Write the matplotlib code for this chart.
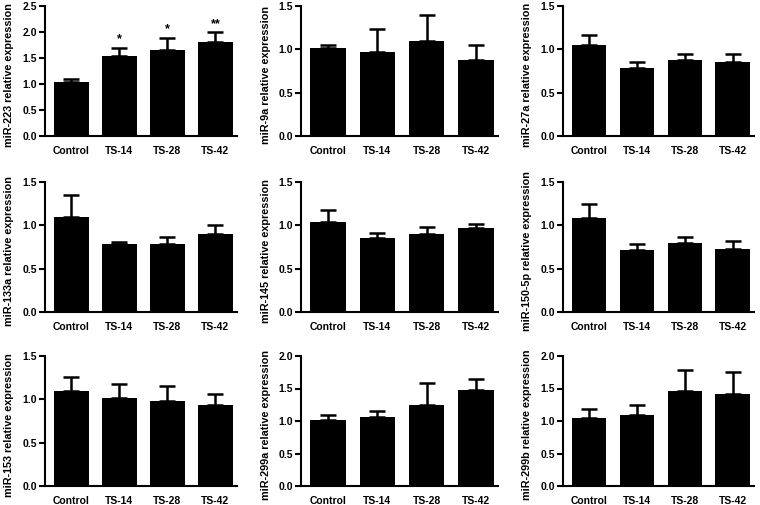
import matplotlib
matplotlib.use("Agg")
import matplotlib.pyplot as plt

plt.rcParams['font.family'] = ['Liberation Sans', 'DejaVu Sans']
plt.rcParams['font.weight'] = 'bold'

groups = ['Control', 'TS-14', 'TS-28', 'TS-42']

names = ['miR-223', 'miR-9a', 'miR-27a',
         'miR-133a', 'miR-145', 'miR-150-5p',
         'miR-153', 'miR-299a', 'miR-299b']

# mean values
mir223 = [1.03, 1.54, 1.65, 1.81]
mir9a = [1.01, 0.97, 1.10, 0.88]
mir27a = [1.05, 0.79, 0.88, 0.85]
mir133a = [1.10, 0.78, 0.78, 0.90]
mir145 = [1.04, 0.85, 0.90, 0.97]
mir150 = [1.08, 0.72, 0.80, 0.73]
mir153 = [1.10, 1.02, 0.98, 0.94]
mir299a = [1.02, 1.06, 1.25, 1.47]
mir299b = [1.05, 1.09, 1.46, 1.42]

# upper error (SEM)
err223 = [0.07, 0.16, 0.24, 0.19]
err9a = [0.04, 0.26, 0.30, 0.17]
err27a = [0.12, 0.06, 0.07, 0.10]
err133a = [0.25, 0.03, 0.08, 0.10]
err145 = [0.14, 0.06, 0.08, 0.05]
err150 = [0.17, 0.06, 0.06, 0.09]
err153 = [0.16, 0.16, 0.17, 0.12]
err299a = [0.08, 0.09, 0.34, 0.18]
err299b = [0.14, 0.15, 0.32, 0.33]

stars223 = ['', '*', '*', '**']

means = [mir223, mir9a, mir27a, mir133a, mir145, mir150, mir153, mir299a, mir299b]
errs = [err223, err9a, err27a, err133a, err145, err150, err153, err299a, err299b]
ymax = [2.5, 1.5, 1.5, 1.5, 1.5, 1.5, 1.5, 2.0, 2.0]

W, H = 760, 505
fig = plt.figure(figsize=(7.6, 5.05), dpi=100)

col_left = [45, 301, 563]
col_right = [237, 498, 754]
row_top = [6, 182, 356]
row_bot = [136, 312, 486]
lab_x = [14, 271, 532]

for i in range(9):
    r, c = divmod(i, 3)
    ax = fig.add_axes([col_left[c] / W, 1 - row_bot[r] / H,
                       (col_right[c] - col_left[c]) / W,
                       (row_bot[r] - row_top[r]) / H])
    x = range(len(groups))
    ax.bar(x, means[i], width=0.72, color='black', zorder=2)
    ax.errorbar(x, means[i], yerr=[[0] * 4, errs[i]], fmt='none',
                ecolor='black', elinewidth=1.8, capsize=5.5, capthick=1.8, zorder=1)
    ax.set_xlim(-0.55, 3.45)
    ax.set_ylim(0, ymax[i])
    step = 0.5
    ticks = [k * step for k in range(int(round(ymax[i] / step)) + 1)]
    ax.set_yticks(ticks)
    ax.set_yticklabels(['%.1f' % t for t in ticks], fontsize=7.5, fontweight='bold')
    ax.set_xticks(list(x))
    ax.set_xticklabels(groups, fontsize=7.5, fontweight='bold')
    ax.spines['top'].set_visible(False)
    ax.spines['right'].set_visible(False)
    ax.spines['left'].set_linewidth(1.5)
    ax.spines['bottom'].set_linewidth(1.5)
    ax.tick_params(axis='y', length=4, width=1.5, pad=2)
    ax.tick_params(axis='x', length=0, pad=7)
    ax.set_ylabel(names[i] + ' relative expression', fontsize=7.8, fontweight='bold')
    ax.yaxis.set_label_coords((lab_x[c] - col_left[c]) / (col_right[c] - col_left[c]), 0.47)
    if i == 0:
        for k in range(4):
            if stars223[k]:
                ax.text(k, means[i][k] + errs[i][k] + 0.04, stars223[k],
                        ha='center', va='bottom', fontsize=9, fontweight='bold')

fig.savefig('out.png', dpi=100)
